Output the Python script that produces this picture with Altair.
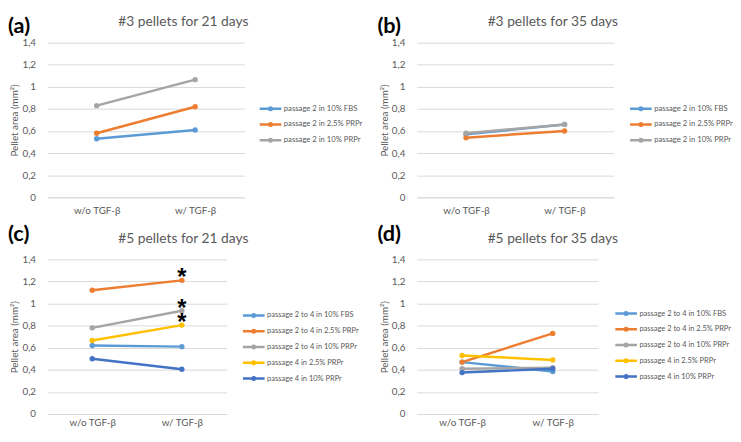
import altair as alt
import pandas as pd

FONT = "Lato"
GRAY_TXT = "#595959"
GRID = "#d9d9d9"

categories = ["w/o TGF-β", "w/ TGF-β"]

series_3 = ["passage 2 in 10% FBS", "passage 2 in 2.5% PRPr", "passage 2 in 10% PRPr"]
series_5 = ["passage 2 to 4 in 10% FBS", "passage 2 to 4 in 2.5% PRPr",
            "passage 2 to 4 in 10% PRPr", "passage 4 in 2.5% PRPr", "passage 4 in 10% PRPr"]
colors_3 = ["#5B9BD5", "#ED7D31", "#A5A5A5"]
colors_5 = ["#5B9BD5", "#ED7D31", "#A5A5A5", "#FFC000", "#4472C4"]

# values per series: [w/o TGF-β, w/ TGF-β]
a_values = [[0.53, 0.61], [0.58, 0.82], [0.83, 1.065]]
b_values = [[0.57, 0.66], [0.54, 0.60], [0.58, 0.66]]
c_values = [[0.62, 0.61], [1.12, 1.21], [0.78, 0.935], [0.665, 0.805], [0.50, 0.405]]
d_values = [[0.47, 0.385], [0.47, 0.73], [0.41, 0.42], [0.53, 0.49], [0.375, 0.41]]

letters = ["(a)", "(b)", "(c)", "(d)"]
titles = ["#3 pellets for 21 days", "#3 pellets for 35 days",
          "#5 pellets for 21 days", "#5 pellets for 35 days"]

star_categories = ["w/ TGF-β", "w/ TGF-β", "w/ TGF-β"]
star_values = [1.21, 0.935, 0.805]

y_ticks = [0, 0.2, 0.4, 0.6, 0.8, 1.0, 1.2, 1.4]

LEGEND_SYMBOL = "M-1,0H1M-0.12,0a0.12,0.12 0 1,0 0.24,0a0.12,0.12 0 1,0 -0.24,0"


def panel(idx, series, colors, values, width, height, legend_x, legend_y,
          letter_y, title_y, legend_font, x_pad, stars=False):
    rows = []
    for i, s in enumerate(series):
        for j, c in enumerate(categories):
            rows.append({"cat": c, "series": s, "v": values[i][j]})
    df = pd.DataFrame(rows)

    x = alt.X("cat:N", sort=categories,
              scale=alt.Scale(type="point", padding=0.5, domain=categories),
              axis=alt.Axis(title=None, labelAngle=0, ticks=False, domain=True,
                            domainColor=GRID, grid=False, labelColor=GRAY_TXT,
                            labelFontSize=10, labelPadding=x_pad, labelFont=FONT))
    y = alt.Y("v:Q", scale=alt.Scale(domain=[0, 1.4], nice=False, zero=True),
              axis=alt.Axis(values=y_ticks, title="Pellet area (mm²)",
                            labelExpr="replace(format(datum.value, '~g'), '.', ',')",
                            labelOverlap=False,
                            domain=False, ticks=False, gridColor=GRID, gridWidth=1,
                            labelColor=GRAY_TXT, labelFontSize=10, labelPadding=12,
                            labelFont=FONT, titleFont=FONT, titleFontSize=10,
                            titleFontWeight="normal", titleColor=GRAY_TXT, titlePadding=2))
    color = alt.Color("series:N", sort=series,
                      scale=alt.Scale(domain=series, range=colors),
                      legend=alt.Legend(title=None, orient="none", legendX=legend_x,
                                        legendY=legend_y, symbolType=LEGEND_SYMBOL,
                                        symbolSize=484, symbolStrokeWidth=2.5,
                                        clipHeight=16, rowPadding=0, padding=0,
                                        labelOffset=1, labelFontSize=legend_font,
                                        labelFont=FONT, labelColor=GRAY_TXT))
    lines = alt.Chart(df).mark_line(
        strokeWidth=2.5,
        point=alt.OverlayMarkDef(filled=True, size=30, opacity=1)
    ).encode(x=x, y=y, color=color)

    letter = alt.Chart(pd.DataFrame({"t": [letters[idx]]})).mark_text(
        align="left", baseline="middle", fontSize=22, fontWeight="bold",
        font=FONT, color="black"
    ).encode(text="t:N", x=alt.value(-40), y=alt.value(letter_y))

    title = alt.Chart(pd.DataFrame({"t": [titles[idx]]})).mark_text(
        align="center", baseline="middle", fontSize=14, font=FONT, color=GRAY_TXT
    ).encode(text="t:N", x=alt.value(138), y=alt.value(title_y))

    layers = [lines, letter, title]
    if stars:
        sdf = pd.DataFrame({"cat": star_categories, "v": star_values, "t": ["*"] * 3})
        star = alt.Chart(sdf).mark_text(
            fontSize=24, fontWeight="bold", font="Liberation Sans", color="black",
            baseline="alphabetic", dy=5
        ).encode(x=x, y=y, text="t:N")
        layers.append(star)
    return alt.layer(*layers).properties(width=width, height=height)


pa = panel(0, series_3, colors_3, a_values, 200, 157, 214, 59, -17, -21, 7.8, 8)
pb = panel(1, series_3, colors_3, b_values, 200, 157, 215, 59, -17, -21, 7.8, 8)
pc = panel(2, series_5, colors_5, c_values, 182, 157, 197, 49, -26, -21, 7.6, 4, stars=True)
pd_ = panel(3, series_5, colors_5, d_values, 184, 157, 200, 47, -26, -21, 7.6, 4)

chart = alt.concat(
    pa, pb, pc, pd_, columns=2, bounds="flush",
    spacing={"row": 63, "column": 175}
).resolve_scale(
    color="independent", x="independent", y="independent"
).properties(
    padding={"left": 0, "top": 4, "right": 0, "bottom": -3},
    background="white"
).configure_view(stroke=None)

chart.save("out.html", embed_options={"renderer": "svg", "actions": False})
